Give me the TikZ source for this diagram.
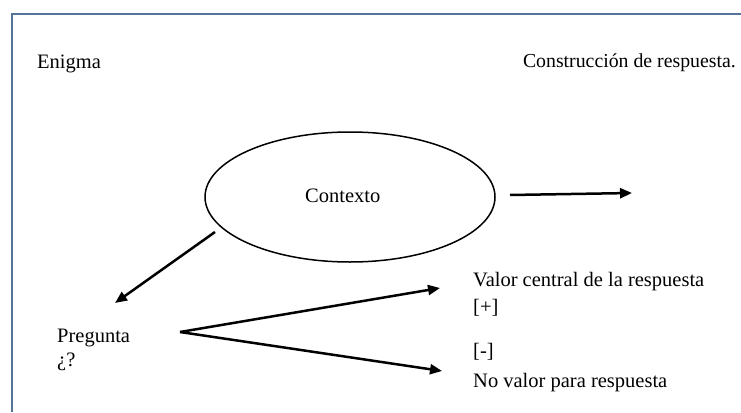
\documentclass[tikz,border=0pt]{standalone}
\usepackage{fontspec}
\setmainfont{Liberation Serif}
\usetikzlibrary{arrows.meta,shapes.geometric}
\definecolor{frameblue}{RGB}{84,116,154}
\begin{document}
\begin{tikzpicture}[x=1pt,y=-1pt,
  txt/.style={anchor=base west,inner sep=0pt,font=\fontsize{20.5}{24}\selectfont},
  arr/.style={line width=2.5pt,-{Triangle[length=12pt,width=10pt]}},
  framestroke/.style={draw=frameblue,line width=2pt}]
\useasboundingbox (0,0) rectangle (741,412);
% frame: top and left edges only
\draw[framestroke] (12,412) -- (12,14) -- (741,14);

% texts
\node[txt] (enigma) at (37,68) {Enigma};
\node[txt,anchor=base east,font=\fontsize{19.8}{24}\selectfont] (constr) at (736,67) {Construcción de respuesta.};
\node[draw,ellipse,line width=1.5pt,minimum width=290pt,minimum height=130pt,inner sep=0pt] (ctx) at (350,197) {};
\node[txt] (ctxlabel) at (305,202) {Contexto};
\node[txt] (preg) at (57,342) {Pregunta};
\node[txt] (pregq) at (57,366) {¿?};
\node[txt] (valor) at (473,286) {Valor central de la respuesta};
\node[txt] (plus) at (473,313) {[+]};
\node[txt] (minus) at (473,357) {[-]};
\node[txt] (novalor) at (473,387) {No valor para respuesta};

% connector ends
\coordinate (ctxout) at (510,195);
\coordinate (ctxfar) at (632,193);
\coordinate (ctxdown) at (215,232);
\coordinate (pregtop) at (115,303);
\coordinate (fork) at (180,332);
\coordinate (uptip) at (440,288);
\coordinate (downtip) at (442,371);

% connectors
\draw[arr] (ctxout) -- (ctxfar);
\draw[arr] (ctxdown) -- (pregtop);
\draw[arr] (fork) -- (uptip);
\draw[arr] (fork) -- (downtip);
\end{tikzpicture}
\end{document}
